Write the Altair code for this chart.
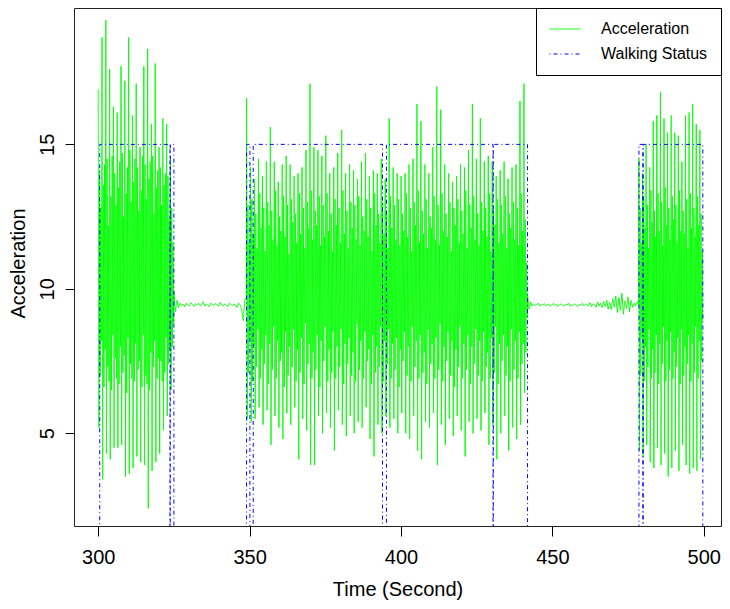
import altair as alt
import numpy as np
import pandas as pd

# ---- Acceleration signal ----
# walking segment 1 (about 300 - 325 s): peak, trough, then core values per step
walk_a = [
    16.9, 5.2, 14.1, 7.0, 12.8, 8.2,
    18.7, 3.4, 13.6, 6.6, 14.3, 7.9,
    19.3, 4.3, 14.5, 7.3, 12.2, 6.8,
    17.6, 4.1, 13.2, 6.5, 14.6, 8.4,
    16.3, 4.5, 14.0, 7.6, 12.9, 6.9,
    16.1, 4.5, 13.5, 6.7, 14.4, 8.0,
    17.7, 4.6, 14.7, 7.1, 12.5, 7.7,
    17.2, 3.5, 13.3, 6.4, 14.2, 8.3,
    18.7, 3.6, 14.8, 7.4, 13.0, 6.9,
    16.0, 3.8, 13.7, 6.8, 14.5, 8.1,
    17.1, 4.2, 14.2, 7.2, 12.7, 7.5,
    14.9, 4.0, 13.4, 6.6, 14.6, 8.4,
    17.7, 3.9, 14.3, 7.0, 13.1, 6.7,
    18.3, 2.4, 13.8, 6.5, 14.4, 7.8,
    15.7, 3.7, 14.6, 7.3, 12.6, 8.2,
    17.8, 4.0, 13.5, 6.9, 14.1, 7.6,
    14.9, 4.3, 14.2, 7.5, 12.9, 6.8,
    15.9, 5.1, 13.6, 7.1, 14.0, 8.3,
    15.7, 5.6, 13.9, 7.4, 12.4, 7.9,
    14.5, 6.5, 12.8, 8.0, 11.6, 8.8,
]
# resting segment 1 (about 325 - 349 s)
rest_a = [
    9.9, 9.2, 9.6, 9.35, 9.5, 9.42, 9.47, 9.38, 9.5, 9.44, 9.4, 9.52,
    9.46, 9.39, 9.48, 9.43, 9.5, 9.41, 9.45, 9.55, 9.4, 9.47, 9.44, 9.38,
    9.5, 9.46, 9.42, 9.49, 9.44, 9.4, 9.53, 9.45, 9.41, 9.48, 9.43, 9.39,
    9.5, 9.46, 9.42, 9.47, 9.44, 9.36, 9.5, 9.45, 9.3, 8.9, 9.6, 9.7,
]
# walking segment 2 (about 349 - 442 s)
walk_b = [
    16.6, 5.5, 12.9, 7.1, 11.6, 8.3,
    14.2, 5.4, 13.1, 6.8, 11.9, 8.0,
    13.8, 5.5, 12.6, 7.3, 11.4, 8.6,
    14.5, 5.9, 13.3, 6.9, 12.1, 7.9,
    13.9, 5.3, 12.8, 7.4, 11.3, 8.4,
    14.4, 5.8, 13.0, 6.7, 12.2, 8.1,
    15.6, 4.6, 12.7, 7.2, 11.7, 8.7,
    14.4, 5.6, 13.4, 6.9, 11.5, 8.2,
    13.7, 5.2, 12.5, 7.5, 12.0, 7.8,
    14.3, 4.8, 13.2, 6.6, 11.8, 8.5,
    14.6, 5.7, 12.9, 7.0, 11.2, 8.0,
    14.3, 5.3, 13.1, 7.3, 12.3, 8.6,
    13.9, 5.9, 12.6, 6.8, 11.6, 7.9,
    14.0, 4.1, 13.3, 7.1, 11.9, 8.3,
    14.2, 5.5, 12.8, 6.7, 11.4, 8.8,
    14.8, 5.1, 13.0, 7.4, 12.1, 8.1,
    17.1, 3.9, 13.4, 6.9, 11.7, 7.8,
    14.9, 3.9, 12.7, 7.2, 12.2, 8.4,
    14.8, 5.6, 13.2, 6.6, 11.5, 8.2,
    14.6, 5.0, 12.9, 7.5, 11.8, 8.7,
    15.3, 5.7, 13.3, 6.8, 12.0, 7.9,
    14.0, 5.2, 12.6, 7.1, 11.3, 8.5,
    14.2, 4.4, 13.1, 6.9, 12.2, 8.0,
    14.7, 5.8, 12.8, 7.3, 11.6, 8.6,
    15.5, 5.3, 13.4, 6.7, 11.9, 8.1,
    14.0, 4.9, 12.7, 7.4, 11.4, 8.3,
    14.3, 5.6, 13.0, 7.0, 12.1, 7.8,
    14.1, 5.0, 12.9, 6.8, 11.7, 8.8,
    13.8, 5.4, 13.2, 7.2, 11.5, 8.2,
    14.4, 5.2, 12.5, 6.9, 12.0, 8.5,
    14.7, 5.9, 13.1, 7.5, 11.8, 7.9,
    13.9, 4.8, 12.8, 6.7, 11.3, 8.4,
    14.1, 4.2, 13.3, 7.1, 12.2, 8.0,
    14.0, 5.3, 12.6, 7.3, 11.6, 8.7,
    14.5, 5.0, 13.0, 6.8, 11.9, 8.2,
    13.8, 5.6, 12.7, 7.4, 11.4, 8.6,
    15.9, 5.2, 13.2, 6.9, 12.1, 8.1,
    14.2, 5.5, 12.9, 7.2, 11.7, 8.3,
    14.0, 5.0, 13.1, 6.6, 11.5, 7.9,
    13.9, 5.7, 12.6, 7.5, 12.0, 8.5,
    14.0, 5.0, 13.3, 7.0, 11.8, 8.0,
    14.3, 4.8, 12.8, 6.8, 11.3, 8.7,
    14.5, 5.6, 13.0, 7.3, 12.2, 8.2,
    16.4, 4.4, 13.4, 6.9, 11.6, 8.4,
    15.8, 4.1, 12.7, 7.1, 11.9, 7.8,
    14.3, 5.4, 13.1, 6.7, 11.4, 8.6,
    14.0, 5.2, 12.5, 7.4, 12.1, 8.1,
    14.9, 5.7, 13.2, 6.9, 11.7, 8.3,
    17.0, 3.9, 12.9, 7.2, 11.5, 8.8,
    16.2, 5.3, 13.3, 6.8, 12.0, 8.0,
    14.3, 4.6, 12.6, 7.5, 11.8, 8.5,
    14.0, 5.5, 13.0, 7.0, 11.3, 8.2,
    13.7, 4.9, 12.8, 6.6, 12.2, 7.9,
    13.9, 5.6, 13.1, 7.3, 11.6, 8.7,
    14.3, 5.1, 12.7, 6.9, 11.9, 8.1,
    14.2, 4.2, 13.4, 7.2, 11.4, 8.4,
    14.8, 5.4, 12.9, 6.7, 12.1, 8.0,
    16.4, 5.0, 13.2, 7.4, 11.7, 8.6,
    14.5, 5.5, 12.6, 7.0, 11.5, 8.2,
    15.9, 5.1, 13.0, 6.8, 12.0, 8.5,
    14.4, 5.7, 12.8, 7.3, 11.8, 7.8,
    14.6, 4.6, 13.3, 6.9, 11.3, 8.3,
    14.4, 5.3, 12.7, 7.1, 12.2, 8.7,
    13.9, 4.1, 13.1, 6.7, 11.6, 8.1,
    14.1, 5.0, 12.9, 7.5, 11.9, 8.4,
    14.4, 5.6, 13.2, 7.0, 11.4, 8.0,
    13.8, 4.4, 12.6, 6.8, 12.1, 8.6,
    14.2, 5.2, 13.0, 7.2, 11.7, 8.2,
    14.3, 4.8, 12.8, 6.9, 11.5, 8.5,
    16.5, 5.3, 13.3, 7.4, 12.0, 8.1,
    17.1, 6.4, 12.4, 7.8, 10.9, 9.0,
]
# resting segment 2 (about 442 - 478 s)
rest_b = [
    9.8, 9.3, 9.55, 9.4, 9.48, 9.42, 9.45, 9.5, 9.4, 9.46, 9.43, 9.49,
    9.41, 9.45, 9.47, 9.4, 9.44, 9.5, 9.42, 9.46, 9.39, 9.45, 9.48, 9.43,
    9.41, 9.47, 9.44, 9.5, 9.4, 9.45, 9.42, 9.48, 9.44, 9.39, 9.46, 9.43,
    9.5, 9.41, 9.47, 9.44, 9.42, 9.52, 9.38, 9.48, 9.45, 9.36, 9.55, 9.4,
    9.5, 9.35, 9.56, 9.38, 9.6, 9.3, 9.52, 9.28, 9.66, 9.36, 9.75, 9.18,
    9.7, 9.25, 9.85, 9.12, 9.58, 9.32, 9.72, 9.2, 9.6, 9.36, 9.5, 9.4,
    9.55, 9.45,
]
# walking segment 3 (about 479 - 500 s)
walk_c = [
    14.5, 4.4, 12.8, 7.0, 11.6, 8.3,
    14.0, 4.2, 13.2, 6.8, 12.1, 8.0,
    15.0, 4.6, 12.9, 7.3, 11.4, 8.6,
    14.2, 4.0, 13.4, 6.9, 12.3, 7.9,
    15.8, 3.8, 12.7, 7.1, 11.8, 8.4,
    16.0, 4.5, 13.3, 6.7, 12.0, 8.1,
    16.8, 3.9, 13.0, 7.4, 11.5, 8.7,
    15.9, 4.3, 13.5, 6.8, 12.2, 8.2,
    15.4, 3.5, 12.8, 7.2, 11.7, 8.5,
    16.0, 3.8, 13.2, 6.9, 12.4, 7.8,
    15.4, 4.4, 12.9, 7.3, 11.6, 8.3,
    15.3, 3.7, 13.4, 6.7, 12.0, 8.6,
    14.4, 4.6, 12.7, 7.0, 11.9, 8.0,
    16.0, 3.9, 13.1, 7.4, 11.4, 8.4,
    16.1, 3.6, 13.3, 6.8, 12.1, 8.1,
    16.4, 3.8, 12.8, 7.1, 11.8, 8.7,
    15.7, 3.7, 13.2, 6.9, 12.2, 8.2,
    15.5, 4.1, 12.6, 7.5, 11.3, 8.9,
]
# time span (seconds) covered by each segment's samples
segment_start = [300.0, 325.0, 349.0, 441.8, 478.6]
segment_end = [324.9, 348.9, 441.7, 478.5, 499.7]
segment_values = [walk_a, rest_a, walk_b, rest_b, walk_c]

# ---- Walking status step function ----
status_time = [300.0, 300.5, 323.7, 323.8, 325.0, 349.0, 350.1, 351.2,
               393.9, 395.2, 430.4, 430.5, 441.8, 478.6, 479.9, 480.0,
               499.7, 500.0]
status_value = [0, 15, 0, 15, 0, 15, 0, 15, 0, 15, 0, 15, 0, 15, 0, 15, 0, 0]

x_ticks = [300, 350, 400, 450, 500]
y_ticks = [5, 10, 15]
series_names = ["Acceleration", "Walking Status"]

times, vals = [], []
for t0, t1, v in zip(segment_start, segment_end, segment_values):
    times.extend(np.linspace(t0, t1, len(v)))
    vals.extend(v)
acc = pd.DataFrame({"t": times, "v": vals, "series": series_names[0]})
status = pd.DataFrame({"t": status_time, "v": status_value, "series": series_names[1]})

FONT = "Liberation Sans"
color_scale = alt.Scale(domain=series_names, range=["#00ff00", "#0000ff"])
dash_scale = alt.Scale(domain=series_names, range=[[1, 0], [1, 3, 4, 3]])

x_enc = alt.X(
    "t:Q",
    scale=alt.Scale(domain=[292, 505.7], nice=False, zero=False),
    axis=alt.Axis(values=x_ticks, title="Time (Second)", tickSize=10,
                  labelPadding=27, labelBaseline="alphabetic", labelFlush=False,
                  titleY=69, titleBaseline="alphabetic"),
)
y_enc = alt.Y(
    "v:Q",
    scale=alt.Scale(domain=[1.79, 19.72], nice=False, zero=False),
    axis=alt.Axis(values=y_ticks, title="Acceleration", tickSize=9,
                  labelAngle=270, labelAlign="center", labelBaseline="alphabetic",
                  labelPadding=12, labelFlush=False,
                  titleAngle=270, titleX=-50, titleY=255, titleAlign="center",
                  titleBaseline="alphabetic"),
)
color_enc = alt.Color("series:N", scale=color_scale, title=None)
dash_enc = alt.StrokeDash("series:N", scale=dash_scale, title=None)

acc_layer = alt.Chart(acc).mark_line(strokeWidth=1, clip=True).encode(
    x=x_enc, y=y_enc, color=color_enc, strokeDash=dash_enc
)
status_layer = alt.Chart(status).mark_line(
    strokeWidth=1, clip=True, interpolate="step-after"
).encode(x=x_enc, y=y_enc, color=color_enc, strokeDash=dash_enc)

chart = (
    alt.layer(acc_layer, status_layer)
    .properties(
        width=647, height=518,
        padding={"left": 66, "top": 0, "right": 1, "bottom": 74},
        autosize=alt.AutoSizeParams(type="none"),
        background="white",
    )
    .configure(font=FONT)
    .configure_view(stroke="#222222", strokeWidth=1)
    .configure_axis(
        grid=False, domain=False, tickColor="black", tickWidth=1,
        labelFont=FONT, labelFontSize=20, labelColor="black",
        titleFont=FONT, titleFontSize=20, titleFontWeight="normal", titleColor="black",
    )
    .configure_legend(
        orient="none", legendX=462, legendY=0,
        strokeColor="black", fillColor="white", padding=13,
        symbolType="stroke", symbolSize=961, symbolStrokeWidth=1,
        clipHeight=16,
        labelFont=FONT, labelFontSize=16, labelColor="black",
        labelOffset=20, rowPadding=9,
    )
)

chart.save("out.html", embed_options={"renderer": "svg", "actions": False})
